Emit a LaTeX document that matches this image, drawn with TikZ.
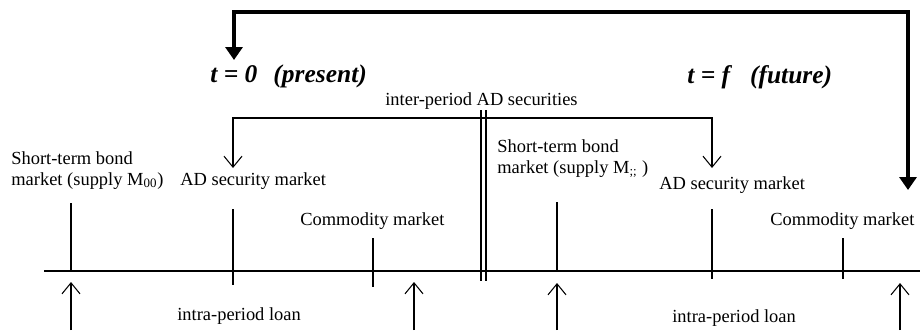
\documentclass[tikz,border=0pt]{standalone}
\usepackage{fontspec}
\setmainfont{Liberation Serif}
\usetikzlibrary{arrows.meta,positioning}

\tikzset{
    mktext/.style={anchor=base west, inner sep=0pt, font=\fontsize{10.5}{12}\selectfont},
    periodtitle/.style={anchor=base west, inner sep=0pt, font=\fontsize{14.5}{16}\selectfont\bfseries\itshape},
    tickline/.style={line width=0.6pt},
    openarrow/.style={line width=0.6pt, -{Straight Barb[length=2.2mm,width=3.6mm]}},
    bothopen/.style={line width=0.6pt, {Straight Barb[length=2.2mm,width=3.6mm]}-{Straight Barb[length=2.2mm,width=3.6mm]}},
    backarrow/.style={line width=2.3pt, {Triangle[length=2.6mm,width=3.4mm]}-{Triangle[length=2.6mm,width=3.4mm]}}
}

\begin{document}
\begin{tikzpicture}
    \useasboundingbox (0,0) rectangle (18.4,6.6);

    % Time axis and period break
    \draw[line width=1.1pt] (0.88,1.18) -- (18.4,1.18);
    \draw[line width=1.1pt] (9.62,4.40) -- (9.62,0.98);
    \draw[line width=1.1pt] (9.72,4.40) -- (9.72,0.98);

    % Feedback from future to present
    \coordinate (fut) at (18.16,2.80);
    \coordinate (pres) at (4.68,5.40);
    \draw[backarrow] (fut) -- ++(0,3.56) -| (pres);

    % Period titles
    \node[periodtitle] (tzero) at (4.20,4.96) {t = 0\hspace{0.63em}(present)};
    \node[periodtitle] (tfut) at (13.74,4.94) {t = f\hspace{0.78em}(future)};

    % Inter-period AD securities
    \node[mktext] (inter) at (7.70,4.50) {inter-period AD securities};
    \coordinate (adL) at (4.66,3.24);
    \coordinate (adR) at (14.24,3.24);
    \draw[bothopen] (adL) -- ++(0,1) -| (adR);

    % Period 0 markets
    \node[mktext] (bondA1) at (0.22,3.32) {Short-term bond};
    \node[mktext] (bondA2) at (0.22,2.90) {market (supply M\textsubscript{00})};
    \draw[tickline] (1.42,2.54) -- (1.42,1.18);
    \node[mktext] (adA) at (3.60,2.90) {AD security market};
    \draw[tickline] (4.66,2.42) -- (4.66,0.90);
    \node[mktext] (comA) at (6.00,2.10) {Commodity market};
    \draw[tickline] (7.46,1.84) -- (7.46,0.86);

    % Period f markets
    \node[mktext] (bondB1) at (9.94,3.56) {Short-term bond};
    \node[mktext] (bondB2) at (9.94,3.14) {market (supply M\textsubscript{;;} )};
    \draw[tickline] (11.14,2.56) -- (11.14,1.18);
    \node[mktext] (adB) at (13.18,2.82) {AD security market};
    \draw[tickline] (14.24,2.42) -- (14.24,1.02);
    \node[mktext] (comB) at (15.40,2.10) {Commodity market};
    \draw[tickline] (16.86,1.84) -- (16.86,1.02);

    % Intra-period loans
    \node[mktext] (loanA) at (3.54,0.20) {intra-period loan};
    \draw[openarrow] (1.42,0) -- (1.42,0.96);
    \draw[openarrow] (8.28,0) -- (8.28,0.96);
    \node[mktext] (loanB) at (13.44,0.16) {intra-period loan};
    \draw[openarrow] (11.14,0) -- (11.14,0.94);
    \draw[openarrow] (18.00,0) -- (18.00,0.94);
\end{tikzpicture}
\end{document}
